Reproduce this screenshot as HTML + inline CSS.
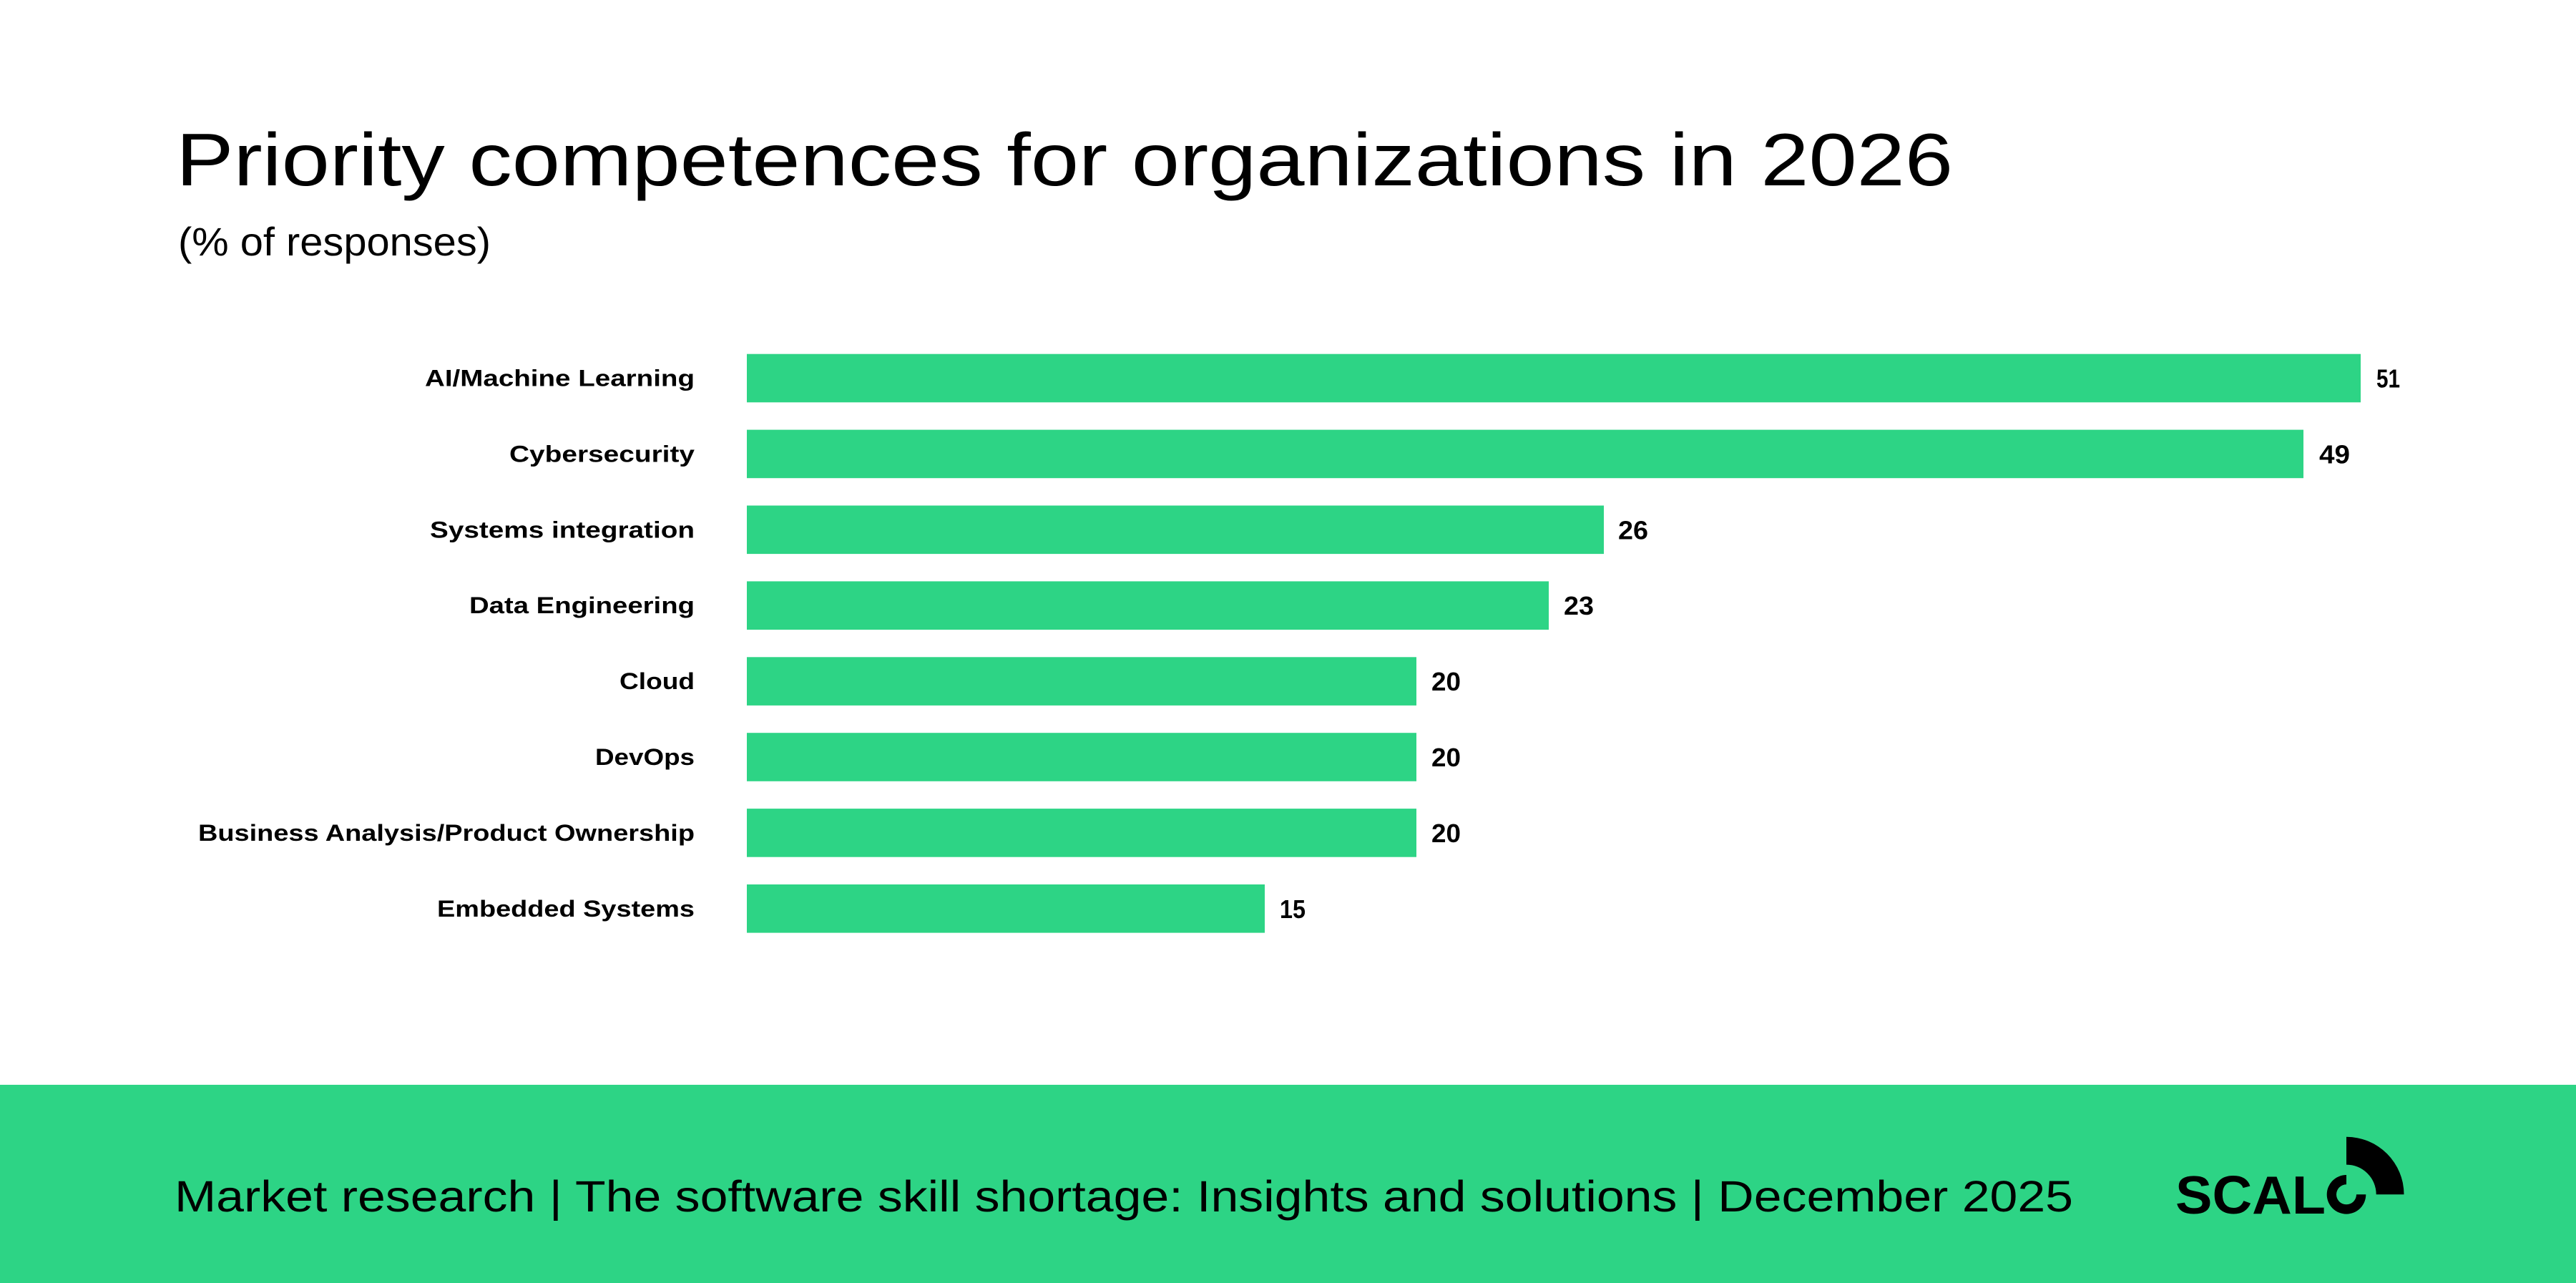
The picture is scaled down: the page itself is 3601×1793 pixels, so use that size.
<!DOCTYPE html>
<html>
<head>
<meta charset="utf-8">
<style>
  html, body { margin:0; padding:0; background:#ffffff; }
  body { width:3601px; height:1793px; overflow:hidden; }
  svg { display:block; }
  text { font-family: "Liberation Sans", Arial, sans-serif; fill:#000; }
</style>
</head>
<body>
<svg width="3601" height="1793" viewBox="0 0 3601 1793" xmlns="http://www.w3.org/2000/svg">
  <rect x="0" y="0" width="3601" height="1793" fill="#ffffff"/>

  <!-- Title -->
  <text x="246" y="259" font-size="104" textLength="2484" lengthAdjust="spacingAndGlyphs">Priority competences for organizations in 2026</text>
  <text x="249" y="357" font-size="56" textLength="437" lengthAdjust="spacingAndGlyphs">(% of responses)</text>

  <!-- Bars -->
  <g fill="#2dd485">
    <rect x="1044" y="494.7" width="2256" height="67.6"/>
    <rect x="1044" y="600.6" width="2176" height="67.6"/>
    <rect x="1044" y="706.5" width="1198" height="67.6"/>
    <rect x="1044" y="812.4" width="1121" height="67.6"/>
    <rect x="1044" y="918.3" width="936" height="67.6"/>
    <rect x="1044" y="1024.2" width="936" height="67.6"/>
    <rect x="1044" y="1130.1" width="936" height="67.6"/>
    <rect x="1044" y="1236.0" width="724" height="67.6"/>
  </g>

  <!-- Category labels -->
  <g font-size="32" font-weight="bold" text-anchor="end">
    <text x="971" y="539.5" textLength="377" lengthAdjust="spacingAndGlyphs">AI/Machine Learning</text>
    <text x="971" y="645.4" textLength="259" lengthAdjust="spacingAndGlyphs">Cybersecurity</text>
    <text x="971" y="751.3" textLength="370" lengthAdjust="spacingAndGlyphs">Systems integration</text>
    <text x="971" y="857.2" textLength="315" lengthAdjust="spacingAndGlyphs">Data Engineering</text>
    <text x="971" y="963.1" textLength="105" lengthAdjust="spacingAndGlyphs">Cloud</text>
    <text x="971" y="1069.0" textLength="139" lengthAdjust="spacingAndGlyphs">DevOps</text>
    <text x="971" y="1174.9" textLength="694" lengthAdjust="spacingAndGlyphs">Business Analysis/Product Ownership</text>
    <text x="971" y="1280.8" textLength="360" lengthAdjust="spacingAndGlyphs">Embedded Systems</text>
  </g>

  <!-- Value labels -->
  <g font-size="36" font-weight="bold">
    <text x="3322" y="541.5" textLength="33" lengthAdjust="spacingAndGlyphs">51</text>
    <text x="3242" y="647.4" textLength="43" lengthAdjust="spacingAndGlyphs">49</text>
    <text x="2262" y="753.3" textLength="42" lengthAdjust="spacingAndGlyphs">26</text>
    <text x="2186" y="859.2" textLength="42" lengthAdjust="spacingAndGlyphs">23</text>
    <text x="2001" y="965.1" textLength="41" lengthAdjust="spacingAndGlyphs">20</text>
    <text x="2001" y="1071.0" textLength="41" lengthAdjust="spacingAndGlyphs">20</text>
    <text x="2001" y="1176.9" textLength="41" lengthAdjust="spacingAndGlyphs">20</text>
    <text x="1789" y="1282.8" textLength="36" lengthAdjust="spacingAndGlyphs">15</text>
  </g>

  <!-- Footer band -->
  <rect x="0" y="1516" width="3601" height="277" fill="#2dd485"/>
  <text x="244" y="1693" font-size="61" textLength="2654" lengthAdjust="spacingAndGlyphs">Market research | The software skill shortage: Insights and solutions | December 2025</text>

  <!-- SCALO logo -->
  <text x="3041" y="1696" font-size="75" font-weight="bold" textLength="210" lengthAdjust="spacingAndGlyphs">SCAL</text>
  <path d="M 3280 1642 A 27.3 27.3 0 1 0 3307.3 1669.3 L 3294 1669.3 A 14 14 0 1 1 3280 1655.3 Z" fill="#000"/>
  <path d="M 3280 1588.8 A 80.5 80.5 0 0 1 3360.5 1669.3 L 3321.7 1669.3 A 41.7 41.7 0 0 0 3280 1627.6 Z" fill="#000"/>
</svg>
</body>
</html>
